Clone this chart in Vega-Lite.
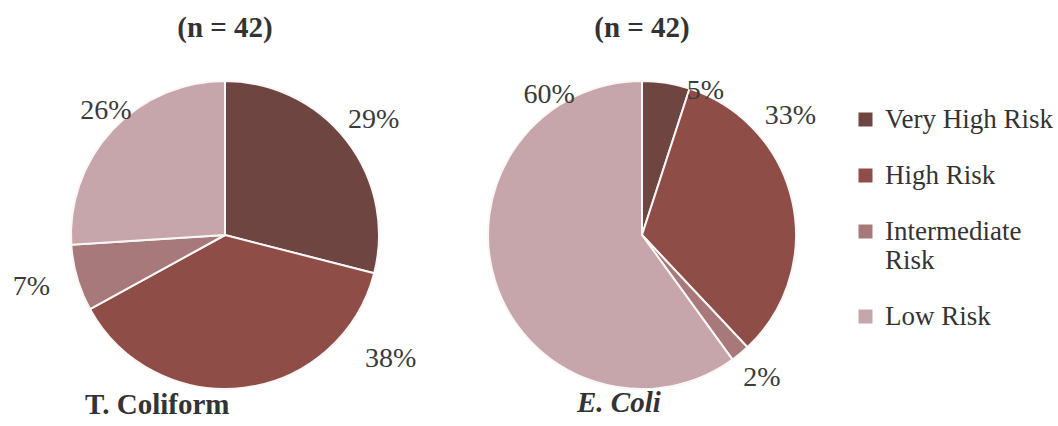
{
  "$schema": "https://vega.github.io/schema/vega-lite/v6.json",
  "background": "white",
  "padding": {"left": 12, "top": 14, "right": 5, "bottom": 4},
  "datasets": {
    "coliform": [
      {"risk": "Very High Risk", "share": 0.29, "rank": 1},
      {"risk": "High Risk", "share": 0.38, "rank": 2},
      {"risk": "Intermediate Risk", "share": 0.07, "rank": 3},
      {"risk": "Low Risk", "share": 0.26, "rank": 4}
    ],
    "ecoli": [
      {"risk": "Very High Risk", "share": 0.05, "rank": 1},
      {"risk": "High Risk", "share": 0.33, "rank": 2},
      {"risk": "Intermediate Risk", "share": 0.02, "rank": 3},
      {"risk": "Low Risk", "share": 0.60, "rank": 4}
    ]
  },
  "hconcat": [
    {
      "title": {"text": "T. Coliform", "orient": "bottom", "anchor": "start", "frame": "group", "dx": 60, "offset": -2, "baseline": "top"},
      "vconcat": [
        {
          "title": {"text": "(n = 42)", "offset": 34},
          "width": 400,
          "height": 310,
          "data": {"name": "coliform"},
          "encoding": {
            "theta": {"field": "share", "type": "quantitative", "stack": true},
            "order": {"field": "rank", "type": "quantitative"},
            "color": {
              "field": "risk",
              "type": "nominal",
              "scale": {
                "domain": ["Very High Risk", "High Risk", "Intermediate Risk", "Low Risk"],
                "range": ["#6e4541", "#8e4d46", "#a8797b", "#c6a6aa"]
              },
              "legend": {
                "orient": "none",
                "legendX": 827,
                "legendY": 26,
                "title": null,
                "padding": 0,
                "symbolType": "square",
                "symbolSize": 196,
                "symbolStrokeWidth": 0,
                "labelFont": "Liberation Serif",
                "labelFontSize": 27,
                "labelColor": "#333333",
                "labelOffset": 6,
                "labelLimit": 300,
                "rowPadding": 28,
                "labelExpr": "datum.label == 'Intermediate Risk' ? ['Intermediate', 'Risk'] : datum.label"
              }
            }
          },
          "layer": [
            {"mark": {"type": "arc", "outerRadius": 154, "stroke": "#fbf7f7", "strokeWidth": 2}},
            {
              "mark": {
                "type": "text",
                "radius": 188,
                "font": "Liberation Serif",
                "fontSize": 28,
                "dx": {"expr": "datum.risk == 'High Risk' ? 142 : datum.risk == 'Low Risk' ? 18 : datum.risk == 'Intermediate Risk' ? -13 : 0"},
                "dy": {"expr": "datum.risk == 'High Risk' ? -63 : datum.risk == 'Low Risk' ? 5 : 0"}
              },
              "encoding": {
                "text": {"field": "share", "type": "quantitative", "format": ".0%"},
                "color": {"value": "#3a3a3a"},
                "detail": {"field": "risk"}
              }
            }
          ]
        }
      ]
    },
    {
      "title": {"text": "E. Coli", "orient": "bottom", "anchor": "start", "frame": "group", "dx": 135, "offset": -4, "baseline": "top", "fontStyle": "italic"},
      "vconcat": [
        {
          "title": {"text": "(n = 42)", "offset": 34},
          "width": 400,
          "height": 310,
          "data": {"name": "ecoli"},
          "encoding": {
            "theta": {"field": "share", "type": "quantitative", "stack": true},
            "order": {"field": "rank", "type": "quantitative"},
            "color": {"field": "risk", "type": "nominal"}
          },
          "layer": [
            {"mark": {"type": "arc", "outerRadius": 154, "stroke": "#fbf7f7", "strokeWidth": 2}},
            {
              "mark": {
                "type": "text",
                "radius": 188,
                "font": "Liberation Serif",
                "fontSize": 28,
                "dx": {"expr": "datum.risk == 'Very High Risk' ? 34 : datum.risk == 'High Risk' ? -35 : datum.risk == 'Low Risk' ? 86 : 0"},
                "dy": {"expr": "datum.risk == 'Very High Risk' ? 42 : datum.risk == 'High Risk' ? -78 : datum.risk == 'Low Risk' ? -198 : -2"}
              },
              "encoding": {
                "text": {"field": "share", "type": "quantitative", "format": ".0%"},
                "color": {"value": "#3a3a3a"},
                "detail": {"field": "risk"}
              }
            }
          ]
        }
      ]
    }
  ],
  "spacing": 17,
  "config": {
    "view": {"stroke": null},
    "concat": {"spacing": 0},
    "title": {"font": "Liberation Serif", "fontSize": 29, "fontWeight": "bold", "color": "#333333"}
  }
}
